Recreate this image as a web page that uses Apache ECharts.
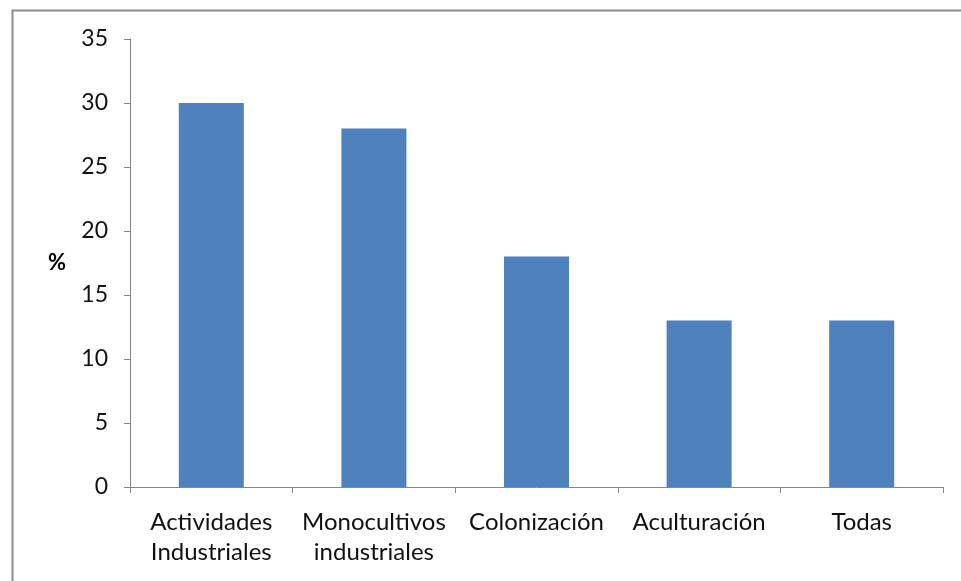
<!DOCTYPE html>
<html><head><meta charset="utf-8">
<script src="https://cdn.jsdelivr.net/npm/echarts@6/dist/echarts.min.js"></script>
<style>html,body{margin:0;padding:0;background:#fff}#c{width:961px;height:581px}</style>
</head><body><div id="c"></div>
<script>
const categories = ["Actividades\nIndustriales", "Monocultivos\nindustriales", "Colonización", "Aculturación", "Todas"];
const values = [30, 28, 18, 13, 13];
const yTicks = { min: 0, max: 35, interval: 5 };
const yName = "%";

const font = "Lato, 'Liberation Sans', sans-serif";
const chart = echarts.init(document.getElementById('c'), null, { renderer: 'canvas' });
chart.setOption({
  animation: false,
  backgroundColor: '#fff',
  graphic: [{
    type: 'rect', left: 10, top: 8, shape: { width: 970, height: 600 },
    style: { fill: 'none', stroke: '#8c8c8c', lineWidth: 2 }, silent: true
  }],
  grid: { left: 130, right: 18, top: 39, bottom: 94, containLabel: false },
  xAxis: {
    type: 'category', data: categories,
    axisLine: { lineStyle: { color: '#868686', width: 1 } },
    axisTick: { show: true, length: 6, alignWithLabel: false, lineStyle: { color: '#868686' } },
    axisLabel: { color: '#111', fontFamily: font, fontSize: 24, margin: 20, lineHeight: 30, interval: 0 }
  },
  yAxis: {
    type: 'value', min: yTicks.min, max: yTicks.max, interval: yTicks.interval,
    name: yName, nameLocation: 'middle', nameRotate: 0, nameGap: 64,
    nameTextStyle: { color: '#000', fontFamily: font, fontSize: 22, fontWeight: 'bold' },
    splitLine: { show: false },
    axisLine: { show: true, lineStyle: { color: '#868686', width: 1 } },
    axisTick: { show: true, length: 6, lineStyle: { color: '#868686' } },
    axisLabel: { color: '#111', fontFamily: font, fontSize: 23, margin: 22 }
  },
  series: [{
    type: 'bar', data: values, barWidth: '40%',
    itemStyle: { color: '#4F81BD' }
  }]
});
</script></body></html>
